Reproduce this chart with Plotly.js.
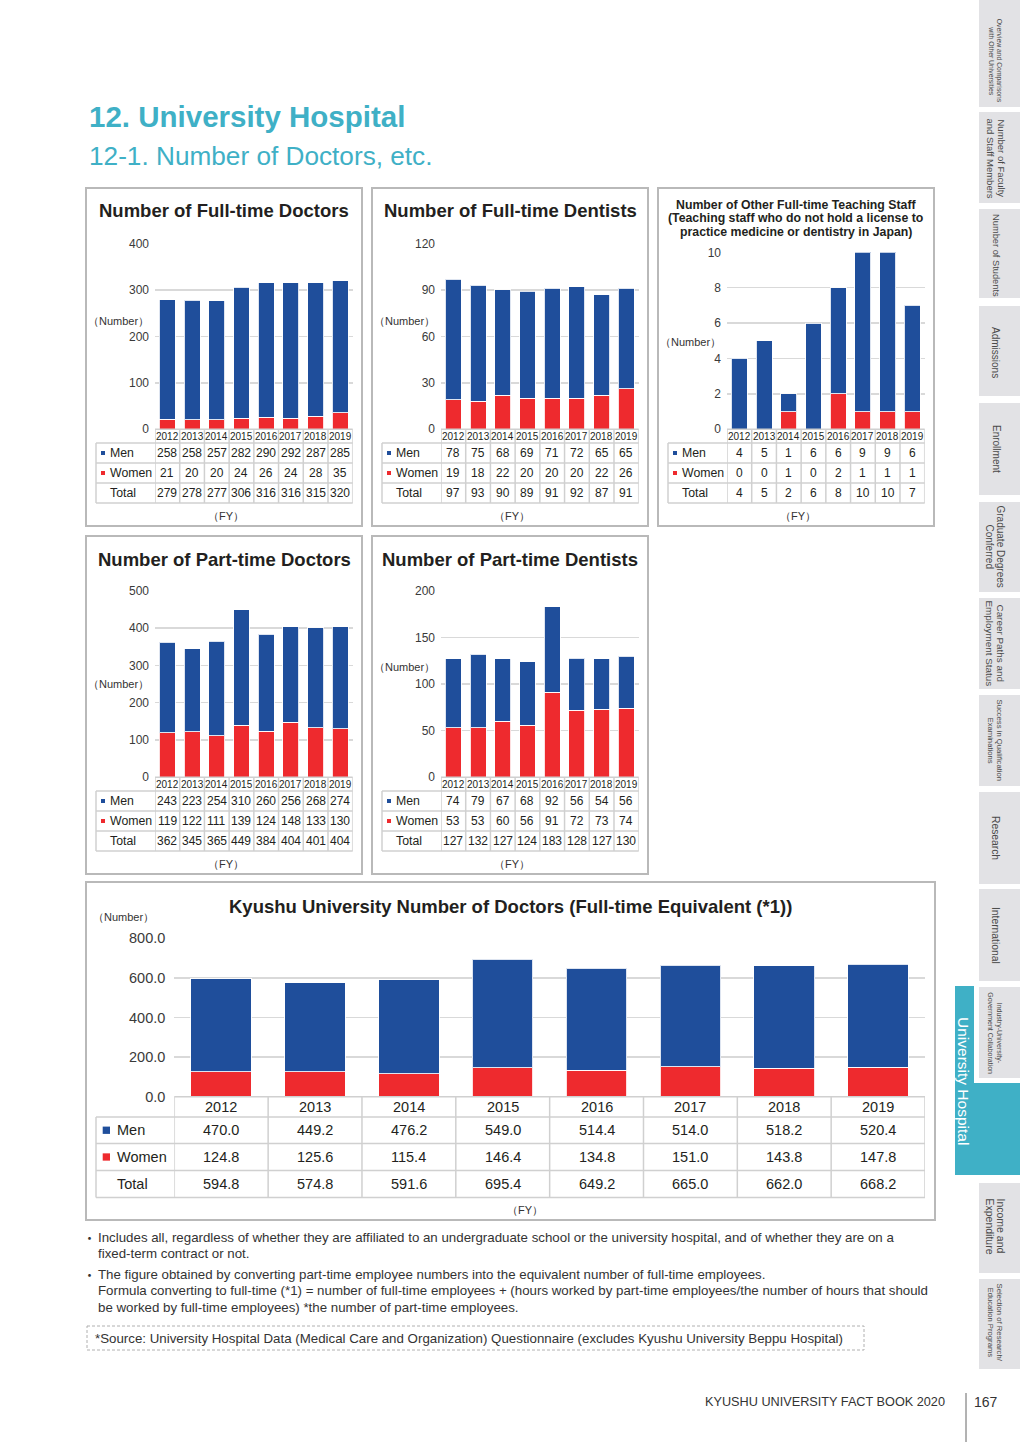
<!DOCTYPE html>
<html><head><meta charset="utf-8">
<script src="https://cdn.plot.ly/plotly-3.0.1.min.js"></script>
<style>html,body{margin:0;padding:0;background:#fff}#chart{width:1020px;height:1442px}</style>
</head><body><div id="chart"></div>
<script>
// ---------------- DATA ----------------
const years = ['2012','2013','2014','2015','2016','2017','2018','2019'];
const rowLabels = ['Men','Women','Total'];

const ftDoctorsMen   = [258,258,257,282,290,292,287,285];
const ftDoctorsWomen = [21,20,20,24,26,24,28,35];
const ftDoctorsTotal = [279,278,277,306,316,316,315,320];

const ftDentistsMen   = [78,75,68,69,71,72,65,65];
const ftDentistsWomen = [19,18,22,20,20,20,22,26];
const ftDentistsTotal = [97,93,90,89,91,92,87,91];

const otherStaffMen   = [4,5,1,6,6,9,9,6];
const otherStaffWomen = [0,0,1,0,2,1,1,1];
const otherStaffTotal = [4,5,2,6,8,10,10,7];

const ptDoctorsMen   = [243,223,254,310,260,256,268,274];
const ptDoctorsWomen = [119,122,111,139,124,148,133,130];
const ptDoctorsTotal = [362,345,365,449,384,404,401,404];

const ptDentistsMen   = [74,79,67,68,92,56,54,56];
const ptDentistsWomen = [53,53,60,56,91,72,73,74];
const ptDentistsTotal = [127,132,127,124,183,128,127,130];

const fteMen   = [470.0,449.2,476.2,549.0,514.4,514.0,518.2,520.4];
const fteWomen = [124.8,125.6,115.4,146.4,134.8,151.0,143.8,147.8];
const fteTotal = [594.8,574.8,591.6,695.4,649.2,665.0,662.0,668.2];

const footnotes = [
  {bullet:true, text:'Includes all, regardless of whether they are affiliated to an undergraduate school or the university hospital, and of whether they are on a'},
  {bullet:false, text:'fixed-term contract or not.'},
  {bullet:true, text:'The figure obtained by converting part-time employee numbers into the equivalent number of full-time employees.'},
  {bullet:false, text:'Formula converting to full-time (*1) = number of full-time employees + (hours worked by part-time employees/the number of hours that should'},
  {bullet:false, text:'be worked by full-time employees) *the number of part-time employees.'}
];
const sourceNote = '*Source: University Hospital Data (Medical Care and Organization) Questionnaire (excludes Kyushu University Beppu Hospital)';

const tabLabels = [
  ['Overview and Comparisons','with Other Universities'],
  ['Number of Faculty','and Staff Members'],
  ['Number of Students'],
  ['Admissions'],
  ['Enrollment'],
  ['Graduate Degrees','Conferred'],
  ['Career Paths and','Employment Status'],
  ['Success in Qualification','Examinations'],
  ['Research'],
  ['International'],
  ['Industry-University-','Government Collaboration'],
  ['Income and','Expenditure'],
  ['Selection of Research/','Education Programs']
];

// ---------------- STYLE / GEOMETRY ----------------
const W = 1020, H = 1442;
const X = v => v / W, Y = v => 1 - v / H;
const FONT = 'Liberation Sans, Arial, Helvetica, sans-serif';
const BLUE = '#1f4e9b', RED = '#ee2a2e', TEAL = '#3fb0c6', TABC = '#e2e2e5';
const TXT = '#231f20', GRID = '#d9d9d9', CELL = '#d0d0d0', BOX = '#b9b9b9';

const data = [], ann = [], shp = [];
const layout = {
  width: W, height: H, margin: {l:0, r:0, t:0, b:0},
  paper_bgcolor: '#ffffff', plot_bgcolor: 'rgba(0,0,0,0)',
  showlegend: false, barmode: 'stack', bargap: 0.355,
  font: {family: FONT, color: TXT},
  annotations: ann, shapes: shp
};

function txt(x, y, t, size, o) {
  o = o || {};
  ann.push(Object.assign({
    x: X(x), y: Y(y), xref: 'paper', yref: 'paper', text: t, showarrow: false,
    xanchor: 'center', yanchor: 'middle',
    font: {family: o.family || FONT, size: size, color: o.color || TXT}
  }, o.extra || {}));
}
function rect(x0, y0, x1, y1, fill, line, layer) {
  shp.push({type:'rect', xref:'paper', yref:'paper', x0:X(x0), x1:X(x1), y0:Y(y0), y1:Y(y1),
    fillcolor: fill || 'rgba(0,0,0,0)', line: line || {width:0}, layer: layer || 'below'});
}
function hl(x0, x1, y, color, w) {
  shp.push({type:'line', xref:'paper', yref:'paper', x0: X(x0), x1: X(x1),
    y0: Y(y), y1: Y(y), line: {color: color, width: w}, layer: 'above'});
}
function vl(x, y0, y1, color, w, xref) {
  shp.push({type:'line', xref: xref || 'paper', yref:'paper', x0: xref ? x : X(x), x1: xref ? x : X(x),
    y0: Y(y0), y1: Y(y1), line: {color: color, width: w}, layer: 'above'});
}

let axisN = 0;
function panel(p) {
  axisN++;
  const xa = axisN === 1 ? 'x' : 'x' + axisN;
  const ya = axisN === 1 ? 'y' : 'y' + axisN;
  const xk = axisN === 1 ? 'xaxis' : 'xaxis' + axisN;
  const yk = axisN === 1 ? 'yaxis' : 'yaxis' + axisN;
  const barLine = {color: 'rgba(255,255,255,0.85)', width: 1};
  data.push({type:'bar', name:'Women', x: years, y: p.women, xaxis: xa, yaxis: ya,
    marker: {color: RED, line: barLine}, hoverinfo: 'skip'});
  data.push({type:'bar', name:'Men', x: years, y: p.men, xaxis: xa, yaxis: ya,
    marker: {color: BLUE, line: barLine}, hoverinfo: 'skip'});
  const tv = [];
  for (let v = 0; v <= p.yMax + 1e-9; v += p.step) tv.push(v);
  layout[xk] = {domain: [X(p.px0), X(p.px1)], anchor: ya, type: 'category', range: [-0.5, years.length - 0.5],
    showticklabels: false, showgrid: false, zeroline: false, showline: false, ticks: '', fixedrange: true};
  layout[yk] = {domain: [Y(p.py1), Y(p.py0)], anchor: xa, range: [0, p.yMax], tickvals: tv,
    tickformat: p.fmt || '', showgrid: true, gridcolor: GRID, gridwidth: 1.5, zeroline: false, showline: false,
    ticks: '', ticklabelstandoff: p.standoff, fixedrange: true,
    tickfont: {family: FONT, size: p.tickSize, color: '#3a3a3a'}};

  // panel frame
  rect(p.box[0], p.box[1], p.box[2], p.box[3], 'rgba(0,0,0,0)', {color: BOX, width: 2}, 'below');
  // title
  p.title.forEach((t, i) => txt(p.titleX, p.titleY[i], '<b>' + t + '</b>', p.titleSize));
  txt(p.num[0], p.num[1], '（Number）', p.numSize, {color: '#333'});
  txt(p.fy[0], p.fy[1], '（FY）', p.numSize, {color: '#333'});

  // table grid
  const r = p.rows;
  hl(p.px0, p.px1, r[0], CELL, 1.5);
  for (let k = 1; k < r.length; k++) hl(p.labelLeft, p.px1, r[k], CELL, 1.5);
  vl(p.labelLeft, r[1], r[4], CELL, 1.5);
  for (let i = 0; i <= years.length; i++) vl(i - 0.5, r[0], r[4], CELL, 1.5, xa);

  // year labels (category index on the bar axis)
  years.forEach((yr, i) => ann.push({x: i, y: Y((r[0] + r[1]) / 2), xref: xa, yref: 'paper', text: yr,
    showarrow: false, xanchor: 'center', yanchor: 'middle',
    font: {family: FONT, size: p.yearSize, color: TXT}}));
  // row labels & values
  const series = [p.men, p.women, p.total];
  const colors = [BLUE, RED, null];
  series.forEach((arr, k) => {
    const cy = (r[k + 1] + r[k + 2]) / 2;
    if (colors[k]) rect(p.labelLeft + p.sqOff, cy - p.sq / 2, p.labelLeft + p.sqOff + p.sq, cy + p.sq / 2, colors[k], {width: 0}, 'above');
    txt(p.labelLeft + p.textOff, cy, rowLabels[k], p.labelSize, {extra: {xanchor: 'left'}});
    arr.forEach((v, i) => ann.push({x: i, y: Y(cy), xref: xa, yref: 'paper',
      text: p.fmt ? v.toFixed(1) : String(v), showarrow: false, xanchor: 'center', yanchor: 'middle',
      font: {family: FONT, size: p.valueSize, color: TXT}}));
  });
}

function smallPanel(def) {
  const dx = def.dx, dy = def.dy;
  panel({
    men: def.men, women: def.women, total: def.total, yMax: def.yMax, step: def.step,
    box: [86 + dx, 188 + dy, 362 + dx, 526 + dy],
    px0: 155 + dx, px1: 352.7 + dx, py0: def.yTop + dy, py1: 429.2 + dy,
    rows: [429.2 + dy, 443 + dy, 463 + dy, 483 + dy, 503 + dy],
    labelLeft: 96 + dx, sqOff: 5, sq: 4, textOff: 12.3,
    title: def.title, titleX: 224 + dx, titleY: def.titleY.map(v => v + dy), titleSize: def.titleSize,
    num: [118 + dx, def.numY + dy], fy: [226 + dx, 516 + dy], numSize: 11,
    yearSize: 10, valueSize: 12, labelSize: 12.3, tickSize: 12, standoff: 5
  });
}

smallPanel({men: ftDoctorsMen, women: ftDoctorsWomen, total: ftDoctorsTotal, dx: 0, dy: 0,
  yTop: 243.5, yMax: 400, step: 100, title: ['Number of Full-time Doctors'], titleY: [211], titleSize: 18.5, numY: 321});
smallPanel({men: ftDentistsMen, women: ftDentistsWomen, total: ftDentistsTotal, dx: 286, dy: 0,
  yTop: 243.5, yMax: 120, step: 30, title: ['Number of Full-time Dentists'], titleY: [211], titleSize: 18.5, numY: 321});
smallPanel({men: otherStaffMen, women: otherStaffWomen, total: otherStaffTotal, dx: 572, dy: 0,
  yTop: 252.3, yMax: 10, step: 2,
  title: ['Number of Other Full-time Teaching Staff', '(Teaching staff who do not hold a license to', 'practice medicine or dentistry in Japan)'],
  titleY: [204.5, 218, 231.5], titleSize: 12.3, numY: 341.7});
smallPanel({men: ptDoctorsMen, women: ptDoctorsWomen, total: ptDoctorsTotal, dx: 0, dy: 348,
  yTop: 243, yMax: 500, step: 100, title: ['Number of Part-time Doctors'], titleY: [211], titleSize: 18.5, numY: 336});
smallPanel({men: ptDentistsMen, women: ptDentistsWomen, total: ptDentistsTotal, dx: 286, dy: 348,
  yTop: 243, yMax: 200, step: 50, title: ['Number of Part-time Dentists'], titleY: [211], titleSize: 18.5, numY: 318.7});

panel({
  men: fteMen, women: fteWomen, total: fteTotal, yMax: 800, step: 200, fmt: '.1f',
  box: [86, 882, 935, 1220], px0: 174.3, px1: 925, py0: 938.3, py1: 1096.7,
  rows: [1096.7, 1117, 1143.5, 1170.5, 1197.5],
  labelLeft: 96, sqOff: 6.7, sq: 7.3, textOff: 19.3,
  title: ['Kyushu University Number of Doctors (Full-time Equivalent (*1))'], titleX: 510.5, titleY: [906], titleSize: 18.5,
  num: [123, 917], fy: [525, 1210], numSize: 11,
  yearSize: 14.5, valueSize: 14.5, labelSize: 14.5, tickSize: 14.5, standoff: 8
});

// ---------------- PAGE HEADER ----------------
txt(87, 117, '<b>12. University Hospital</b>', 29.5, {color: TEAL, extra: {xanchor: 'left'}});
txt(87, 156, '12-1. Number of Doctors, etc.', 26.2, {color: TEAL, extra: {xanchor: 'left'}});

// ---------------- FOOTNOTES ----------------
const fnY = [1237, 1253.5, 1274, 1290.5, 1307];
footnotes.forEach((f, i) => {
  if (f.bullet) txt(89, fnY[i], '・', 13, {color: '#333', family: 'Noto Sans CJK JP, sans-serif'});
  txt(96, fnY[i], f.text, 13.3, {color: '#333', extra: {xanchor: 'left'}});
});
shp.push({type:'rect', xref:'paper', yref:'paper', x0: X(87), x1: X(864), y0: Y(1326), y1: Y(1350),
  line: {color: '#b0b0b0', width: 1, dash: '3px,2px'}, fillcolor: 'rgba(0,0,0,0)'});
txt(93, 1338, sourceNote, 13.3, {color: '#333', extra: {xanchor: 'left'}});

// ---------------- FOOTER ----------------
txt(947, 1402, 'KYUSHU UNIVERSITY FACT BOOK 2020', 12.7, {color: '#333', extra: {xanchor: 'right'}});
vl(966, 1393, 1442, '#666', 1);
txt(986, 1402, '167', 14, {color: '#333'});

// ---------------- SIDE TABS ----------------
// [top, bottom, text centre y, font size, line spacing]
const tabGeo = [
  [0,107,61,6.8,8.5],[112,203,158,9.5,11],[209,298,255,9.3,0],[306,396,352,10,0],[403,495,449,10,0],
  [502,592,546,10,11],[598,689,643,9.9,11],[695,786,740,7.7,9],[792,884,838,10.3,0],[889,981,935,10.3,0],
  [987,1078,1033,7,8.5],[1183,1273,1226,10.5,11],[1279,1369,1322,7.7,9]
];
// teal active tab
rect(955, 986, 1020, 1175, TEAL, {width: 0}, 'below');
rect(974, 986, 1020, 1083, '#ffffff', {width: 0}, 'below');
tabLabels.forEach((lines, i) => {
  const g = tabGeo[i];
  rect(979, g[0], 1020, g[1], TABC, {width: 0}, 'below');
  const n = lines.length;
  lines.forEach((ln, j) => {
    const cx = n === 1 ? 996 : 995 + g[4] / 2 - j * g[4];
    txt(cx, g[2], ln, g[3], {color: '#4a4a4a', extra: {textangle: 90}});
  });
});
txt(964, 1081, 'University Hospital', 15.5, {color: '#ffffff', extra: {textangle: 90}});

Plotly.newPlot('chart', data, layout, {staticPlot: true, displayModeBar: false});
</script>
</body></html>
